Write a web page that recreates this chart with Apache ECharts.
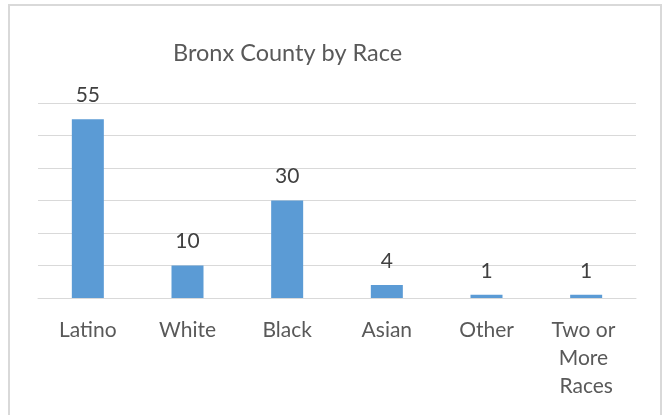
<!DOCTYPE html>
<html>
<head>
<meta charset="utf-8">
<script src="https://cdn.jsdelivr.net/npm/echarts@6/dist/echarts.min.js"></script>
<style>
  html, body { margin: 0; padding: 0; background: #ffffff; }
  #wrap { position: relative; width: 666px; height: 415px; overflow: hidden; }
  #frame { position: absolute; left: 8px; top: 4px; width: 654px; height: 420px;
           border: 2px solid #d9d9d9; box-sizing: border-box; }
  #chart { position: absolute; left: 0; top: 0; width: 666px; height: 415px; }
</style>
</head>
<body>
<div id="wrap">
  <div id="frame"></div>
  <div id="chart"></div>
</div>
<script>
const titleText = "Bronx County by Race";
const categories = ["Latino", "White", "Black", "Asian", "Other", "Two or More Races"];
const values = [55, 10, 30, 4, 1, 1];
const yTicks = [0, 10, 20, 30, 40, 50, 60];

const chart = echarts.init(document.getElementById('chart'), null, { renderer: 'canvas' });
const FONT = 'Lato, "Open Sans", sans-serif';
chart.setOption({
  backgroundColor: 'transparent',
  animation: false,
  title: {
    text: titleText,
    left: 173,
    top: 36,
    padding: 0,
    textStyle: { fontFamily: FONT, fontSize: 23.5, fontWeight: 'normal', color: '#595959', lineHeight: 34 }
  },
  grid: { left: 38, right: 30, top: 103, bottom: 117, containLabel: false },
  xAxis: {
    type: 'category',
    data: categories,
    axisLine: { show: true, lineStyle: { color: '#d9d9d9', width: 1 } },
    axisTick: { show: false },
    axisLabel: {
      interval: 0,
      margin: 18,
      fontFamily: FONT,
      fontSize: 21,
      color: '#595959',
      lineHeight: 28,
      width: 92,
      overflow: 'break'
    }
  },
  yAxis: {
    type: 'value',
    min: yTicks[0],
    max: yTicks[yTicks.length - 1],
    interval: 10,
    axisLine: { show: false },
    axisTick: { show: false },
    axisLabel: { show: false },
    splitLine: { show: true, lineStyle: { color: '#d9d9d9', width: 1 } }
  },
  series: [{
    type: 'bar',
    data: values,
    barWidth: 32,
    itemStyle: { color: '#5B9BD5' },
    label: {
      show: true,
      position: 'top',
      distance: 10,
      fontFamily: FONT,
      fontSize: 21,
      color: '#404040',
      lineHeight: 28
    }
  }]
});
</script>
</body>
</html>
